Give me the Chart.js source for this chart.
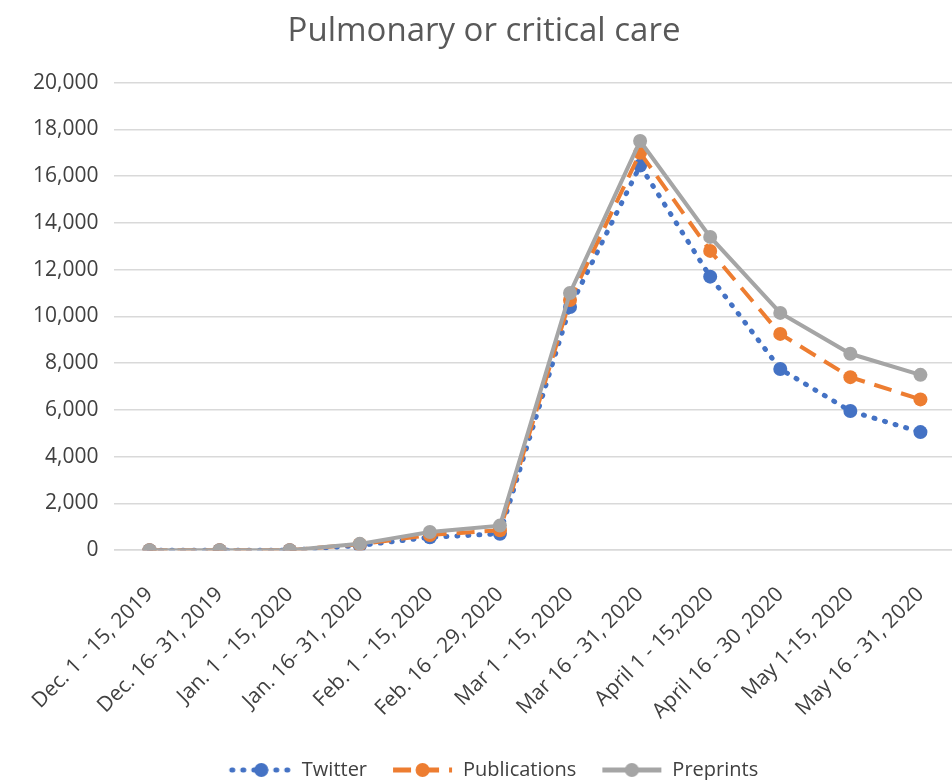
<!DOCTYPE html>
<html>
<head>
<meta charset="utf-8">
<script src="https://cdn.jsdelivr.net/npm/chart.js@4/dist/chart.umd.min.js"></script>
<style>
  html, body { margin: 0; padding: 0; background: #fff; overflow: hidden; }
  #wrap { width: 970px; height: 790px; }
</style>
</head>
<body>
<div id="wrap"><canvas id="chart" width="970" height="790"></canvas></div>
<script>
const labels = ['Dec. 1 - 15, 2019', 'Dec. 16- 31, 2019', 'Jan. 1 - 15, 2020', 'Jan. 16- 31, 2020',
  'Feb. 1 - 15, 2020', 'Feb. 16 - 29, 2020', 'Mar 1 - 15, 2020', 'Mar 16 - 31, 2020',
  'April 1 - 15,2020', 'April 16 - 30 ,2020', 'May 1-15, 2020', 'May 16 - 31, 2020'];
const twitter      = [0, 0, 0, 200, 550, 700, 10400, 16450, 11700, 7750, 5950, 5050];
const publications = [0, 0, 0, 250, 650, 850, 10700, 17000, 12800, 9250, 7400, 6450];
const preprints    = [0, 0, 0, 270, 780, 1050, 11000, 17500, 13400, 10150, 8400, 7500];

const FONT = 'Open Sans';
const TXT = '#404040';
const ICON_W = 82;

// petite image ligne + point pour la légende, façon Excel (marge vide à gauche)
function legendIcon(color, dash) {
  const c = document.createElement('canvas');
  c.width = ICON_W; c.height = 16;
  const g = c.getContext('2d');
  const x0 = ICON_W - 60, x1 = ICON_W - 1, xm = (x0 + x1) / 2;
  g.strokeStyle = color; g.lineWidth = 5; g.lineCap = dash.length && dash[0] <= 2 ? 'round' : 'butt';
  g.setLineDash(dash);
  g.beginPath(); g.moveTo(x0, 8); g.lineTo(x1, 8); g.stroke();
  g.setLineDash([]);
  g.fillStyle = color;
  g.beginPath(); g.arc(xm, 8, 7, 0, Math.PI * 2); g.fill();
  return c;
}

const series = [
  { label: 'Twitter', data: twitter, color: '#4472C4', dash: [1, 10], order: 2 },
  { label: 'Publications', data: publications, color: '#ED7D31', dash: [18, 10], order: 1 },
  { label: 'Preprints', data: preprints, color: '#A5A5A5', dash: [], order: 0 }
];
const icons = series.map(s => legendIcon(s.color, s.dash));

new Chart(document.getElementById('chart'), {
  type: 'line',
  data: {
    labels,
    datasets: series.map(s => ({
      label: s.label,
      data: s.data,
      borderColor: s.color,
      backgroundColor: s.color,
      borderWidth: s.dash.length && s.dash[0] <= 2 ? 5 : 4,
      borderDash: s.dash,
      borderCapStyle: s.dash.length && s.dash[0] <= 2 ? 'round' : 'butt',
      pointStyle: 'circle',
      pointRadius: 7,
      pointBorderWidth: 0,
      pointBackgroundColor: s.color,
      tension: 0,
      order: s.order
    }))
  },
  options: {
    responsive: false,
    animation: false,
    layout: { padding: { left: 4, right: 6, top: 10, bottom: 0 } },
    plugins: {
      title: {
        display: true,
        text: 'Pulmonary or critical care',
        color: '#595959',
        font: { family: FONT, size: 33, weight: 'normal' },
        padding: { top: 2, bottom: 31 }
      },
      legend: {
        position: 'bottom',
        labels: {
          usePointStyle: true,
          pointStyleWidth: ICON_W,
          color: TXT,
          font: { family: FONT, size: 20 },
          padding: 4,
          generateLabels: chart => chart.data.datasets.map((d, i) => ({
            text: d.label,
            fillStyle: d.borderColor,
            strokeStyle: d.borderColor,
            pointStyle: icons[i],
            datasetIndex: i,
            hidden: false,
            fontColor: TXT
          }))
        }
      },
      tooltip: { enabled: false }
    },
    scales: {
      x: {
        offset: true,
        grid: { display: false, drawTicks: false },
        border: { display: true, color: '#d9d9d9', width: 1.5 },
        ticks: {
          color: TXT,
          font: { family: FONT, size: 21 },
          minRotation: 45, maxRotation: 45,
          padding: 32,
          autoSkip: false
        }
      },
      y: {
        min: 0, max: 20000,
        grid: { color: '#d9d9d9', lineWidth: 1.5, drawTicks: false },
        border: { display: false },
        ticks: {
          stepSize: 2000,
          color: TXT,
          font: { family: FONT, size: 21 },
          padding: 16,
          callback: v => v.toLocaleString('en-US')
        }
      }
    }
  }
});
</script>
</body>
</html>
